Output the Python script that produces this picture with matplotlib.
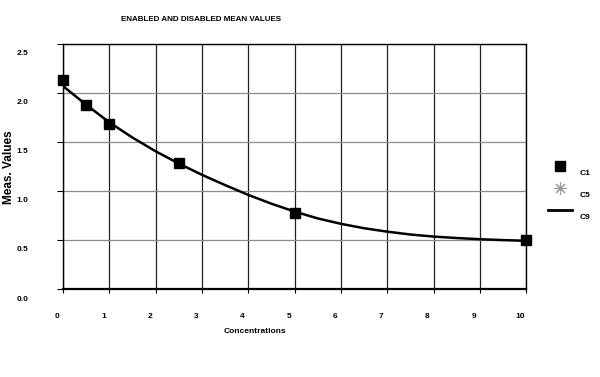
import matplotlib
matplotlib.use("Agg")
import matplotlib.pyplot as plt
import matplotlib.transforms as mtransforms
from matplotlib.lines import Line2D

plt.rcParams['font.family'] = ['Liberation Sans', 'DejaVu Sans']

# data
c1_conc = [0.0, 0.5, 1.0, 2.5, 5.0, 10.0]
c1_vals = [2.13, 1.88, 1.68, 1.29, 0.78, 0.50]

# fitted curve (C9), read every 0.5
c9_conc = [0.0, 0.5, 1.0, 1.5, 2.0, 2.5, 3.0, 3.5, 4.0, 4.5, 5.0,
           5.5, 6.0, 6.5, 7.0, 7.5, 8.0, 8.5, 9.0, 9.5, 10.0]
c9_vals = [2.07, 1.88, 1.70, 1.545, 1.405, 1.28, 1.165, 1.06, 0.96, 0.87, 0.79,
           0.72, 0.665, 0.62, 0.585, 0.556, 0.535, 0.52, 0.508, 0.499, 0.492]

x_ticks = [0, 1, 2, 3, 4, 5, 6, 7, 8, 9, 10]
y_ticks = [0.0, 0.5, 1.0, 1.5, 2.0, 2.5]

fig = plt.figure(figsize=(6, 3.77), dpi=100)
ax = fig.add_axes([0.105, 0.2334, 0.772, 0.65])

ax.plot(c9_conc, c9_vals, color='black', lw=1.8, zorder=3)
ax.plot(c1_conc, c1_vals, 's', color='black', ms=7, zorder=4, clip_on=False)

ax.set_xlim(0, 10)
ax.set_ylim(0, 2.5)
ax.set_xticks(x_ticks)
ax.set_yticks(y_ticks)
ax.set_xticklabels([str(t) for t in x_ticks], fontsize=6, fontweight='bold')
ax.set_yticklabels(['%.1f' % t for t in y_ticks], fontsize=6, fontweight='bold')

#grid: dark vertical, grey horizontal
for xv in x_ticks:
    ax.axvline(xv, color='#222222', lw=0.9, zorder=1)
for yv in y_ticks:
    ax.axhline(yv, color='#8c8c8c', lw=0.9, zorder=1)

for s in ax.spines.values():
    s.set_color('black')
    s.set_linewidth(1.0)
ax.spines['bottom'].set_linewidth(1.6)

ax.tick_params(axis='y', length=4, width=0.8, pad=21, colors='black')
ax.tick_params(axis='x', length=3, width=0.8, pad=14, colors='black')

# shift tick labels like the original
for lab in ax.get_yticklabels():
    lab.set_transform(lab.get_transform() + mtransforms.ScaledTranslation(0, -9 / 100, fig.dpi_scale_trans))
for lab in ax.get_xticklabels():
    lab.set_transform(lab.get_transform() + mtransforms.ScaledTranslation(-6 / 100, 0, fig.dpi_scale_trans))

fig.text(0.335, 0.948, 'ENABLED AND DISABLED MEAN VALUES', fontsize=5.8,
         fontweight='bold', ha='center', va='center')
fig.text(0.425, 0.12, 'Concentrations', fontsize=6, fontweight='bold',
         ha='center', va='center')
fig.text(0.015, 0.557, 'Meas. Values', fontsize=8.5, fontweight='bold',
         rotation=90, ha='center', va='center')

handles = [Line2D([], [], marker='s', color='black', ls='none', ms=7),
           Line2D([], [], marker=(8, 2, 0), color='#9a9a9a', ls='none', ms=9, mew=0.8),
           Line2D([], [], color='black', lw=2)]
leg = ax.legend(handles, ['C1', 'C5', 'C9'], loc='center left',
                bbox_to_anchor=(1.03, 0.41), frameon=False, fontsize=6,
                handlelength=2.9, handletextpad=1.0, labelspacing=1.7)
for t in leg.get_texts():
    t.set_fontweight('bold')
    t.set_transform(t.get_transform() + mtransforms.ScaledTranslation(0, -7 / 100, fig.dpi_scale_trans))

fig.savefig('out.png', dpi=100)
